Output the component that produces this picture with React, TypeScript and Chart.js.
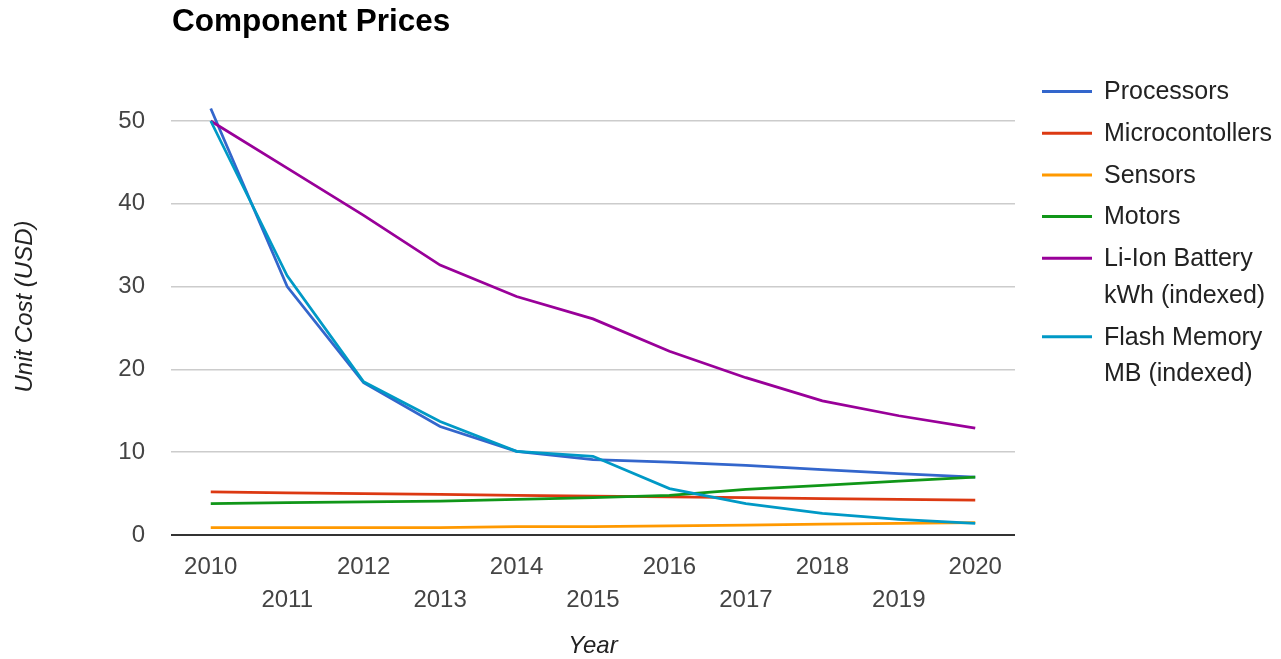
import React, { useEffect, useRef } from 'react';
import { Chart, registerables } from 'chart.js';

Chart.register(...registerables);

const TITLE = 'Component Prices';
const X_TITLE = 'Year';
const Y_TITLE = 'Unit Cost (USD)';

const YEARS = [2010, 2011, 2012, 2013, 2014, 2015, 2016, 2017, 2018, 2019, 2020];
const Y_TICKS = [0, 10, 20, 30, 40, 50];

const SERIES_NAMES = [
  'Processors',
  'Microcontollers',
  'Sensors',
  'Motors',
  'Li-Ion Battery kWh (indexed)',
  'Flash Memory MB (indexed)',
];
const SERIES_COLORS = ['#3366cc', '#dc3912', '#ff9900', '#109618', '#990099', '#0099c6'];

const PROCESSORS = [51.5, 30.0, 18.4, 13.1, 10.1, 9.1, 8.8, 8.4, 7.9, 7.4, 7.0];
const MICROCONTROLLERS = [5.2, 5.1, 5.0, 4.9, 4.8, 4.7, 4.6, 4.5, 4.4, 4.3, 4.2];
const SENSORS = [0.9, 0.9, 0.9, 0.9, 1.0, 1.0, 1.1, 1.2, 1.3, 1.4, 1.5];
const MOTORS = [3.8, 3.9, 4.0, 4.1, 4.3, 4.5, 4.8, 5.5, 6.0, 6.5, 7.0];
const LI_ION_BATTERY = [50.0, 44.3, 38.6, 32.6, 28.8, 26.1, 22.2, 19.0, 16.2, 14.4, 12.9];
const FLASH_MEMORY = [50.0, 31.3, 18.5, 13.7, 10.1, 9.5, 5.6, 3.8, 2.6, 1.9, 1.4];

const SERIES_VALUES = [PROCESSORS, MICROCONTROLLERS, SENSORS, MOTORS, LI_ION_BATTERY, FLASH_MEMORY];

const FONT = '"Liberation Sans", Arial, Helvetica, sans-serif';

function wrapText(ctx: CanvasRenderingContext2D, text: string, maxWidth: number): string[] {
  const words = text.split(' ');
  const lines: string[] = [];
  let cur = '';
  for (const w of words) {
    const test = cur ? cur + ' ' + w : w;
    if (cur && ctx.measureText(test).width > maxWidth) {
      lines.push(cur);
      cur = w;
    } else {
      cur = test;
    }
  }
  if (cur) lines.push(cur);
  return lines;
}

const decorPlugin = {
  id: 'decor',
  afterDraw(chart: any) {
    const ctx: CanvasRenderingContext2D = chart.ctx;
    ctx.save();
    // Title
    ctx.font = `bold 31.5px ${FONT}`;
    ctx.fillStyle = '#000000';
    ctx.textAlign = 'left';
    ctx.textBaseline = 'alphabetic';
    ctx.fillText(TITLE, 172, 31);

    // Y axis title
    ctx.save();
    ctx.translate(25, 306.5);
    ctx.rotate(-Math.PI / 2);
    ctx.font = `italic 24px ${FONT}`;
    ctx.fillStyle = '#222222';
    ctx.textAlign = 'center';
    ctx.textBaseline = 'middle';
    ctx.fillText(Y_TITLE, 0, 0);
    ctx.restore();

    // Legend
    ctx.font = `25px ${FONT}`;
    ctx.textAlign = 'left';
    ctx.textBaseline = 'middle';
    const lineH = 36.7;
    let y = 91.5;
    chart.data.datasets.forEach((ds: any) => {
      const lines = wrapText(ctx, ds.label, 174);
      ctx.strokeStyle = ds.borderColor;
      ctx.lineWidth = 3;
      ctx.beginPath();
      ctx.moveTo(1042, y);
      ctx.lineTo(1092, y);
      ctx.stroke();
      ctx.fillStyle = '#222222';
      lines.forEach((ln, i) => ctx.fillText(ln, 1104, y + 1 + i * lineH));
      y += 41.7 + (lines.length - 1) * lineH;
    });
    ctx.restore();
  },
};

export default function App() {
  const canvasRef = useRef<HTMLCanvasElement | null>(null);

  useEffect(() => {
    if (!canvasRef.current) return;
    const chart = new Chart(canvasRef.current, {
      type: 'line',
      data: {
        datasets: SERIES_NAMES.map((name, i) => ({
          label: name,
          data: YEARS.map((yr, j) => ({ x: yr, y: SERIES_VALUES[i][j] })),
          borderColor: SERIES_COLORS[i],
          backgroundColor: SERIES_COLORS[i],
          borderWidth: 2.75,
          pointRadius: 0,
          tension: 0,
          clip: false as any,
          order: SERIES_NAMES.length - i,
        })),
      },
      options: {
        animation: false,
        responsive: false,
        devicePixelRatio: 1,
        layout: { padding: { top: 121, right: 266, bottom: 0, left: 0 } },
        plugins: {
          legend: { display: false },
          title: { display: false },
          tooltip: { enabled: false },
        },
        scales: {
          x: {
            type: 'linear',
            min: 2009.48,
            max: 2020.52,
            grid: { display: false, drawTicks: false },
            border: { display: false },
            afterBuildTicks: (scale: any) => {
              scale.ticks = YEARS.map((v) => ({ value: v }));
            },
            afterFit: (scale: any) => {
              scale.height = 124;
            },
            ticks: {
              autoSkip: false,
              maxRotation: 0,
              minRotation: 0,
              padding: 16,
              color: '#444444',
              font: { family: FONT, size: 24, lineHeight: 1.375 },
              callback: (value: any) => {
                const v = Number(value);
                return v % 2 === 1 ? ['', String(v)] : String(v);
              },
            },
            title: {
              display: true,
              text: X_TITLE,
              color: '#222222',
              font: { family: FONT, size: 24, style: 'italic', lineHeight: 1 },
              padding: { top: 0, bottom: 1 },
            },
          },
          y: {
            type: 'linear',
            min: 0,
            max: 50,
            afterBuildTicks: (scale: any) => {
              scale.ticks = Y_TICKS.map((v) => ({ value: v }));
            },
            afterFit: (scale: any) => {
              scale.width = 171;
            },
            grid: {
              drawTicks: false,
              lineWidth: (c: any) => (c.tick && c.tick.value === 0 ? 2 : 1.5),
              color: (c: any) => (c.tick && c.tick.value === 0 ? '#333333' : '#cccccc'),
            },
            border: { display: false },
            ticks: {
              padding: 26,
              color: '#444444',
              font: { family: FONT, size: 24 },
            },
          },
        },
      },
      plugins: [decorPlugin],
    } as any);
    return () => chart.destroy();
  }, []);

  return (
    <div style={{ position: 'absolute', left: 0, top: 0, width: 1281, height: 659, background: '#ffffff' }}>
      <canvas ref={canvasRef} width={1281} height={659} />
    </div>
  );
}
